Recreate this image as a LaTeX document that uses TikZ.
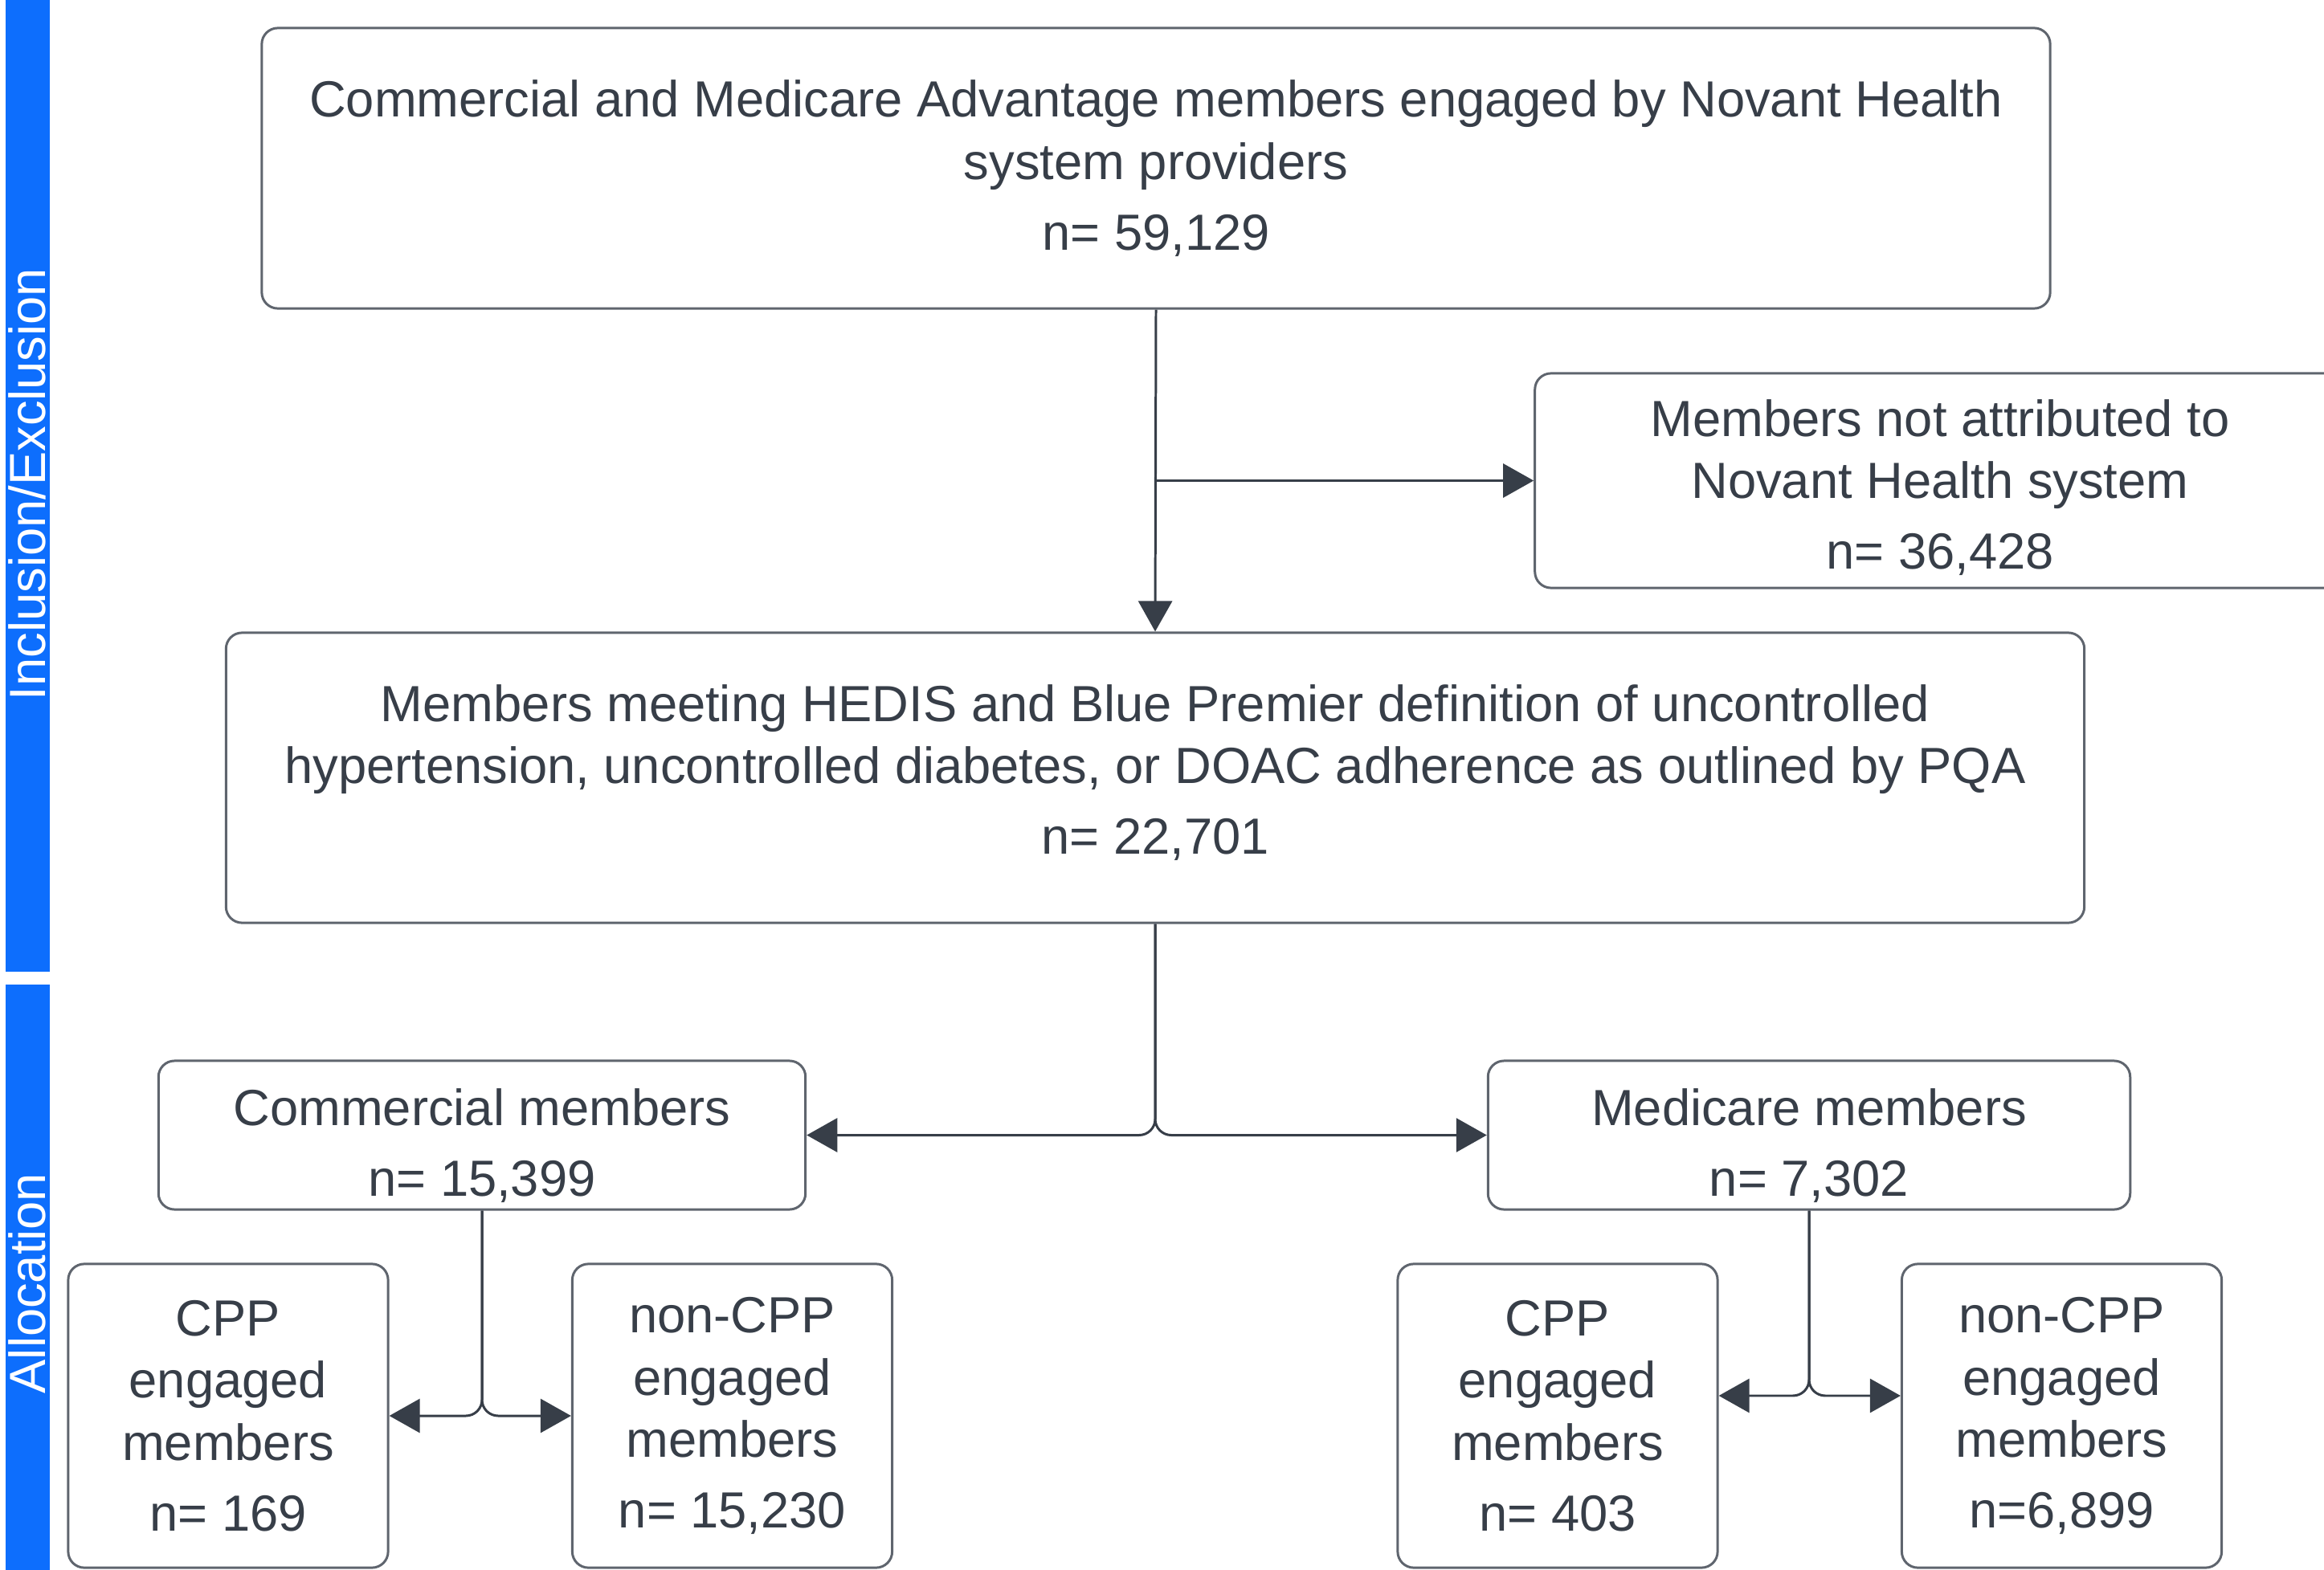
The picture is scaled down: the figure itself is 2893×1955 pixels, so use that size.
\documentclass[tikz,border=0pt]{standalone}
\usepackage{fontspec}
\setmainfont{Liberation Sans}
\usetikzlibrary{arrows.meta}
\definecolor{txt}{RGB}{55,62,72}
\definecolor{edge}{RGB}{95,101,110}
\definecolor{bar}{RGB}{13,110,253}
\begin{document}
\begin{tikzpicture}[x=0.01cm,y=-0.01cm,
  box/.style={draw=edge, line width=0.85pt, rounded corners=0.2cm, align=center, text=txt,
    font=\fontsize{18}{22}\selectfont, inner sep=0pt},
  conn/.style={draw=txt, line width=0.85pt, -{Triangle[length=0.38cm,width=0.42cm]}},
  side/.style={rotate=90, text=white, font=\fontsize{18}{22}\selectfont, inner sep=0pt}]
\useasboundingbox (0,0) rectangle (2893,1955);
% side bars
\fill[bar] (7,0) rectangle (62,1210);
\fill[bar] (7,1226) rectangle (62,1955);
\node[side] (lab1) at (34,603) {Inclusion/Exclusion};
\node[side] (lab2) at (34,1598) {Allocation};
% boxes
\node[box, minimum width=22.25cm, minimum height=3.49cm] (top) at (1439,209.5)
  {Commercial and Medicare Advantage members engaged by Novant Health\\system providers\\[3pt]n= 59,129};
\node[box, minimum width=10.08cm, minimum height=2.67cm] (excl) at (2415,598.5)
  {\rule{0pt}{18pt}Members not attributed to\\Novant Health system\\[3pt]n= 36,428};
\node[box, minimum width=23.12cm, minimum height=3.61cm] (elig) at (1438,968.5)
  {Members meeting HEDIS and Blue Premier definition of uncontrolled\\hypertension, uncontrolled diabetes, or DOAC adherence as outlined by PQA\\[3pt]n= 22,701\rule[-5.8pt]{0pt}{5.8pt}};
\node[box, minimum width=8.05cm, minimum height=1.85cm] (comm) at (600,1413.5)
  {\rule{0pt}{20.5pt}Commercial members\\[3pt]n= 15,399};
\node[box, minimum width=7.99cm, minimum height=1.85cm] (med) at (2252,1413.5)
  {\rule{0pt}{20.5pt}Medicare members\\[3pt]n= 7,302};
\node[box, minimum width=3.98cm, minimum height=3.78cm] (cppL) at (284,1763)
  {CPP\\engaged\\members\\[3pt]n= 169};
\node[box, minimum width=3.98cm, minimum height=3.78cm] (ncppL) at (911.5,1763)
  {non-CPP\\engaged\\members\\[3pt]n= 15,230};
\node[box, minimum width=3.98cm, minimum height=3.78cm] (cppR) at (1939,1763)
  {CPP\\engaged\\members\\[3pt]n= 403};
\node[box, minimum width=3.98cm, minimum height=3.78cm] (ncppR) at (2566.5,1763)
  {non-CPP\\engaged\\members\\[3pt]n=6,899};
% connectors
\draw[conn] (top.south) -- (elig.north);
\coordinate (j1) at (top.south |- excl.west);
\draw[conn] (j1) -- (excl.west);
\draw[conn, rounded corners=0.2cm] (elig.south) |- (comm.east);
\draw[conn, rounded corners=0.2cm] (elig.south) |- (med.west);
\draw[conn, rounded corners=0.2cm] (comm.south) |- (cppL.east);
\draw[conn, rounded corners=0.2cm] (comm.south) |- (ncppL.west);
\draw[conn, rounded corners=0.2cm] (med.south) |- ([yshift=0.25cm]cppR.east);
\draw[conn, rounded corners=0.2cm] (med.south) |- ([yshift=0.25cm]ncppR.west);
\end{tikzpicture}
\end{document}
